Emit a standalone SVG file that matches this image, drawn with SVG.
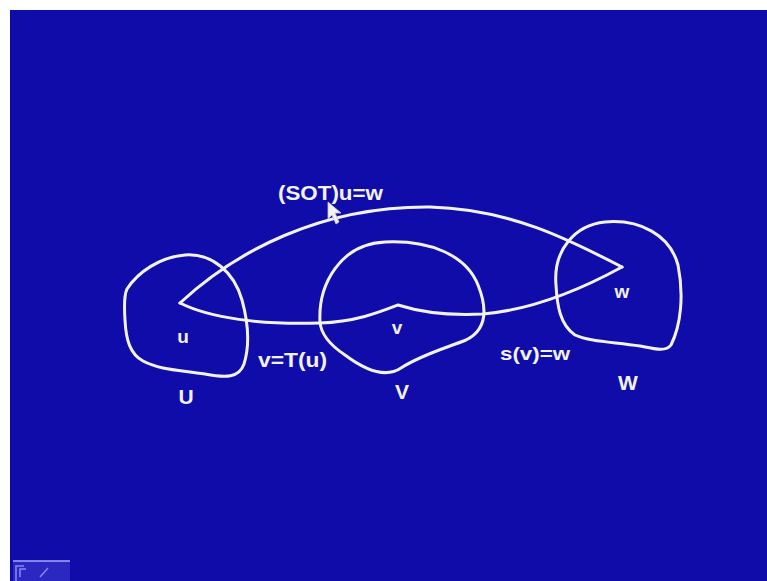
<svg xmlns="http://www.w3.org/2000/svg" width="767" height="581" viewBox="0 0 767 581">
<style>
.sh{fill:none;stroke:#f2f2ee;stroke-width:3;stroke-linejoin:round;stroke-linecap:round}
.t{fill:#f2f2ee;font-family:"Liberation Sans",Arial,sans-serif;font-weight:bold}
</style>
<rect x="0" y="0" width="767" height="581" fill="#ffffff"/>
<rect x="10" y="10" width="757" height="571" fill="#100ca9"/>
<g id="set-U">
<path class="sh" d="M127,289 C138,272 160,257 185,255 C212,253 234,272 242,300 C248,322 250,345 244,364 C239,378 226,378 205,374 C180,370 160,370 143,361 C130,354 126,340 125,320 C124,305 124,295 127,289 Z"/>
<text class="t" x="183" y="343" font-size="19" text-anchor="middle">u</text>
<text class="t" x="186" y="404" font-size="21" text-anchor="middle">U</text>
</g>
<g id="set-V">
<path class="sh" d="M320,322 C318,285 340,244 385,242 C430,240 466,255 478,285 C488,310 486,330 466,340 C446,348 421,355 401,368 C386,378 365,370 345,355 C330,345 321,335 320,322 Z"/>
<text class="t" x="397" y="334" font-size="19" text-anchor="middle">v</text>
<text class="t" x="402" y="399" font-size="21" text-anchor="middle">V</text>
</g>
<g id="set-W">
<path class="sh" d="M556,285 C553,250 575,225 605,222 C640,219 670,235 678,265 C684,295 681,325 671,345 C666,352 655,349 640,346 C615,342 590,342 575,335 C560,325 557,305 556,285 Z"/>
<text class="t" x="622" y="298" font-size="19" text-anchor="middle">w</text>
<text class="t" x="628" y="390" font-size="21" text-anchor="middle">W</text>
</g>
<g id="connectors">
<path class="sh" d="M180,303 C235,252 320,206 430,207 C510,209 570,240 622,267"/>
<path class="sh" d="M180,303 C210,318 260,325 320,323 C355,322 380,312 398,305 C420,312 445,316 483,314 C530,310 580,290 622,267"/>
</g>
<g id="labels">
<text class="t" x="278" y="200" font-size="21" textLength="105" lengthAdjust="spacingAndGlyphs">(SOT)u=w</text>
<text class="t" x="258" y="367" font-size="21" textLength="69" lengthAdjust="spacingAndGlyphs">v=T(u)</text>
<text class="t" x="500" y="360" font-size="19" textLength="70" lengthAdjust="spacingAndGlyphs">s(v)=w</text>
</g>
<g id="cursor">
<path d="M328,202 L328,219 L332,215 L336,224 L339,222 L335,213 L341,213 Z" fill="#f2f2ee" stroke="#c8c8d8" stroke-width="0.8"/>
</g>
<g id="toolbar-icon">
<rect x="13" y="561" width="57" height="20" fill="#2a28c0"/>
<line x1="13" y1="561" x2="70" y2="561" stroke="#a8a8ff" stroke-width="1.5"/>
<path d="M16,581 L16,566 L24,566 M20,577 L20,569 L26,569 M40,577 L48,568" fill="none" stroke="#8888ee" stroke-width="1.5"/>
</g>
</svg>
